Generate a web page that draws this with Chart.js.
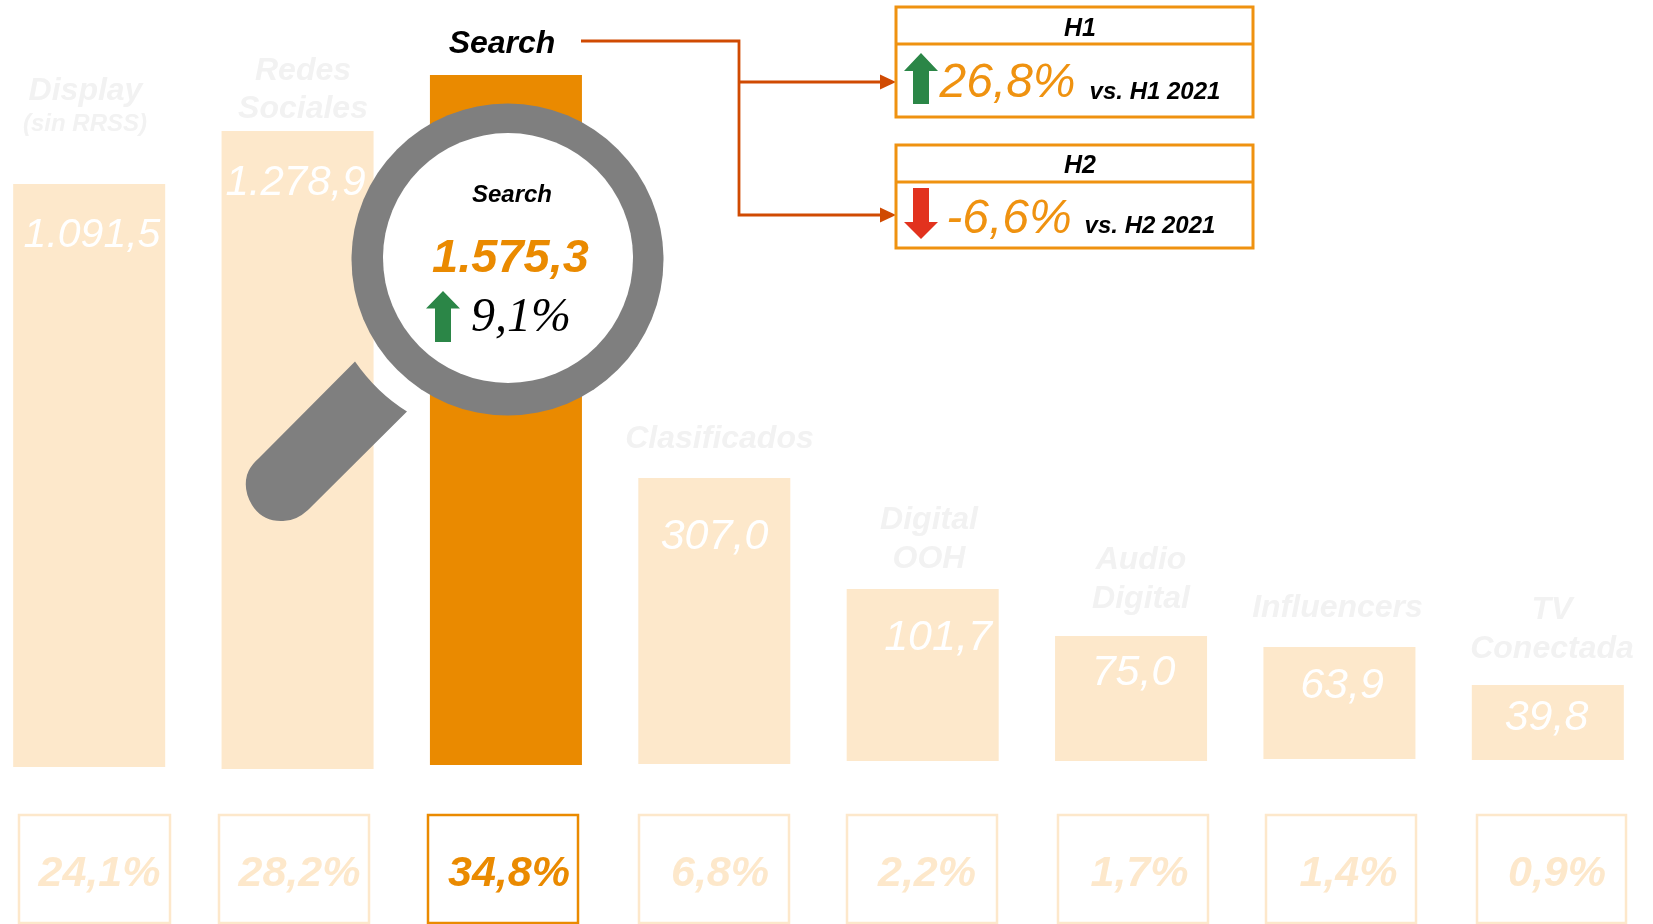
<!DOCTYPE html>
<html lang="es">
<head>
<meta charset="utf-8">
<title>Inversión digital - Search</title>
<script src="https://cdn.jsdelivr.net/npm/chart.js@4"></script>
<style>
    html, body { margin: 0; padding: 0; background: #fff; }
    body { position: relative; width: 1653px; height: 924px; overflow: hidden; font-family: "Liberation Sans", Arial, sans-serif; }
    canvas { position: absolute; left: -15px; top: 0; }
    svg { position: absolute; left: 0; top: 0; }
    .t { position: absolute; transform: translate(-50%, -50%); white-space: nowrap; font-style: italic; line-height: 1; }
</style>
</head>
<body>
<canvas id="myChart" width="1667" height="772"></canvas>
<svg id="capa" width="1653" height="924" xmlns="http://www.w3.org/2000/svg"></svg>
<div id="textos"></div>

<script>
// Datos
const categorias = ['Display', 'Redes Sociales', 'Search', 'Clasificados', 'Digital OOH', 'Audio Digital', 'Influencers', 'TV Conectada'];
const valores = [1091.5, 1278.9, 1575.3, 307.0, 101.7, 75.0, 63.9, 39.8];
// las barras del original no arrancan todas a la misma altura
const bases = [-3, -5, -1, 0, 1.5, 1.5, 2.5, 2];
const etiquetasValor = ['1.091,5', '1.278,9', '1.575,3', '307,0', '101,7', '75,0', '63,9', '39,8'];
const etiquetasCuota = ['24,1%', '28,2%', '34,8%', '6,8%', '2,2%', '1,7%', '1,4%', '0,9%'];
const resaltado = 'Search';

// En el original las barras no son proporcionales a su valor: el eje es
// irregular. Se reproduce con una escala propia por tramos (valor -> altura px)
const tramosValor = [-10, 0, 39.8, 63.9, 75, 101.7, 307, 1091.5, 1278.9, 1575.3, 1600];
const tramosAltura = [-10, 0, 79, 117, 128, 175, 286, 580, 633, 689, 700];

const NARANJA = '#ea8a00';
const CLARO = '#fde8cb';
const GRIS_TEXTO = '#f2f2f2';
const BORDE = '#ef9210';
const LINEA = '#d04a02';
const GRIS = '#7f7f7f';
const VERDE = '#2b8647';
const ROJO = '#e2321e';

class EscalaTramos extends Chart.LinearScale {
    getPixelForValue(value) {
        if (value === null) return NaN;
        let i = 1;
        while (i < tramosValor.length - 1 && value > tramosValor[i]) i++;
        const f = (value - tramosValor[i - 1]) / (tramosValor[i] - tramosValor[i - 1]);
        return this.bottom - (tramosAltura[i - 1] + f * (tramosAltura[i] - tramosAltura[i - 1]));
    }
}
EscalaTramos.id = 'tramos';
EscalaTramos.defaults = {};
Chart.register(EscalaTramos);

const ctx = document.getElementById('myChart').getContext('2d');

const myChart = new Chart(ctx, {
    type: 'bar',
    data: {
        labels: categorias,
        datasets: [{
            label: 'valor',
            data: valores.map((v, i) => [bases[i], v]),
            clip: false,
            backgroundColor: categorias.map((c) => c === resaltado ? NARANJA : CLARO),
            borderWidth: 0,
            barPercentage: 0.7295,
            categoryPercentage: 1
        }]
    },
    options: {
        responsive: false,
        animation: false,
        layout: { padding: { bottom: 8 } },
        plugins: { legend: { display: false }, tooltip: { enabled: false } },
        scales: {
            x: { display: false },
            y: { type: 'tramos', display: false, min: 0, max: 1600 }
        }
    }
});

// Capa SVG: lupa, conectores, cajas y flechas
const capa = document.getElementById('capa');

function svg(tag, attrs) {
    const el = document.createElementNS('http://www.w3.org/2000/svg', tag);
    for (const k in attrs) el.setAttribute(k, attrs[k]);
    capa.appendChild(el);
}

function flecha(cx, punta, cuello, fin, color) {
    svg('polygon', {
        points: `${cx},${punta} ${cx + 17},${cuello} ${cx + 8},${cuello} ${cx + 8},${fin} ${cx - 8},${fin} ${cx - 8},${cuello} ${cx - 17},${cuello}`,
        fill: color
    });
}

// cajas de cuota
[[19, 170], [219, 369], [428, 578], [639, 789], [847, 997], [1058, 1208], [1266, 1416], [1477, 1626]].forEach((b, i) => {
    svg('rect', {
        x: b[0], y: 815, width: b[1] - b[0], height: 108, fill: 'none', 'stroke-width': 2.5,
        stroke: categorias[i] === resaltado ? NARANJA : CLARO
    });
});

// lupa
svg('path', { d: 'M355 361.5 Q377 393 407 411.5 L308 510 Q295 522 281 521 Q262 521 252 505 Q243 490 247 475 Q250 466 259 458 Z', fill: GRIS });
svg('circle', { cx: 507.5, cy: 259.5, r: 156, fill: GRIS });
svg('circle', { cx: 508, cy: 258, r: 125, fill: '#fff' });
flecha(443, 291, 308.5, 342, VERDE);

// conectores
svg('path', { d: 'M581 41 H739 V215 H882 M739 82 H882', fill: 'none', stroke: LINEA, 'stroke-width': 2.8 });
svg('polygon', { points: '896,82 880,74.5 880,89.5', fill: LINEA });
svg('polygon', { points: '896,215 880,207.5 880,222.5', fill: LINEA });

// cajas H1 / H2
[[7, 44, 117], [145, 182, 248]].forEach((c) => {
    svg('rect', { x: 896, y: c[0], width: 357, height: c[2] - c[0], fill: 'none', stroke: BORDE, 'stroke-width': 3 });
    svg('line', { x1: 896, x2: 1253, y1: c[1], y2: c[1], stroke: BORDE, 'stroke-width': 3 });
});
flecha(921, 53, 71, 104, VERDE);
flecha(921, 239, 222, 188, ROJO);

// Textos
const textos = document.getElementById('textos');

function texto(str, x, y, size, color, bold, serif) {
    const d = document.createElement('div');
    d.className = 't';
    d.textContent = str;
    d.style.left = x + 'px';
    d.style.top = y + 'px';
    d.style.fontSize = size + 'px';
    d.style.color = color;
    d.style.fontWeight = bold ? 'bold' : 'normal';
    if (serif) d.style.fontFamily = '"Liberation Serif", "Times New Roman", serif';
    textos.appendChild(d);
}

// nombres de categoria
texto('Display', 85.5, 89, 32, GRIS_TEXTO, true);
texto('(sin RRSS)', 85, 123, 24, GRIS_TEXTO, true);
texto('Redes', 303, 69, 32, GRIS_TEXTO, true);
texto('Sociales', 303, 107, 32, GRIS_TEXTO, true);
texto('Search', 502, 42, 32, '#000', true);
texto('Clasificados', 719.5, 437, 32, GRIS_TEXTO, true);
texto('Digital', 929, 518, 32, GRIS_TEXTO, true);
texto('OOH', 929, 557, 32, GRIS_TEXTO, true);
texto('Audio', 1141, 558, 32, GRIS_TEXTO, true);
texto('Digital', 1141, 597, 32, GRIS_TEXTO, true);
texto('Influencers', 1337.5, 606, 32, GRIS_TEXTO, true);
texto('TV', 1552, 608, 32, GRIS_TEXTO, true);
texto('Conectada', 1552, 647, 32, GRIS_TEXTO, true);

// valores dentro de las barras
const posValor = [[92, 233], [295.5, 181], null, [714.5, 533.5], [938, 635], [1133.5, 670], [1342, 683], [1546.5, 715]];
const tamValor = [41, 42, 0, 43, 43, 43, 43, 43];
etiquetasValor.forEach((v, i) => {
    if (posValor[i]) texto(v, posValor[i][0], posValor[i][1], tamValor[i], '#fff', false);
});

// cuotas
const xCuota = [99.5, 299.5, 509, 720, 927, 1139.5, 1348.5, 1557];
etiquetasCuota.forEach((v, i) => {
    texto(v, xCuota[i], 871, 43, categorias[i] === resaltado ? NARANJA : CLARO, true);
});

// lupa y cajas
texto('Search', 512, 194, 24, '#000', true);
texto(etiquetasValor[2], 510.5, 255, 47, NARANJA, true);
texto('9,1%', 521, 315, 48, '#000', false, true);
texto('H1', 1080, 27, 25, '#000', true);
texto('H2', 1080, 164, 25, '#000', true);
texto('26,8%', 1007.5, 81, 48, BORDE, false);
texto('vs. H1 2021', 1155, 91, 24, '#000', true);
texto('-6,6%', 1009, 217, 48, BORDE, false);
texto('vs. H2 2021', 1150, 225, 24, '#000', true);
</script>
</body>
</html>
